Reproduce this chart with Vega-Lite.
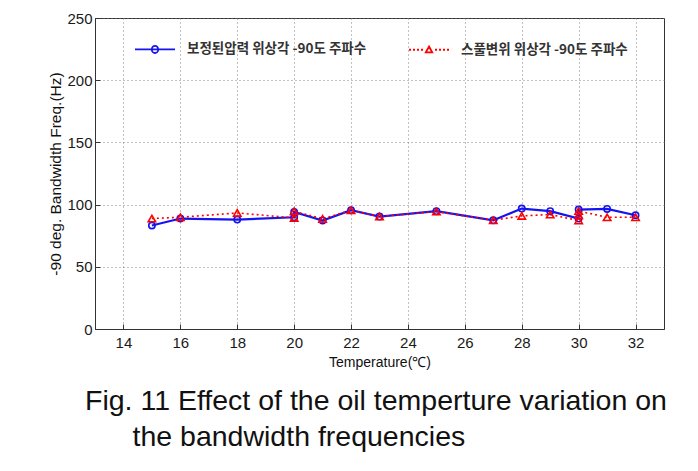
{
  "$schema": "https://vega.github.io/schema/vega-lite/v6.json",
  "autosize": "none",
  "width": 569,
  "height": 311,
  "padding": {"left": 95, "top": 18, "right": 34, "bottom": 142},
  "background": "white",
  "config": {
    "view": {"stroke": "#333", "strokeWidth": 1},
    "axis": {
      "labelFont": "Liberation Sans", "labelFontSize": 15, "labelColor": "#1a1a1a",
      "titleFont": "Liberation Sans", "titleFontSize": 15, "titleColor": "#111", "titleFontWeight": "normal",
      "gridColor": "#777", "gridDash": [1, 3], "gridOpacity": 0.9, "gridWidth": 1,
      "domainColor": "#333", "tickColor": "#333", "tickSize": -5
    }
  },
  "title": {
    "text": ["Fig. 11 Effect of the oil temperture variation on", "\u200b\u00a0\u00a0\u00a0\u00a0\u00a0\u00a0the bandwidth frequencies"],
    "orient": "bottom", "anchor": "start", "frame": "group", "dx": -10, "offset": 18,
    "font": "Liberation Sans", "fontSize": 28.5, "fontWeight": "normal", "color": "#111", "lineHeight": 36
  },
  "datasets": {
    "pts": [
      {"series": "보정된압력 위상각 -90도 주파수", "seq": 1, "t": 15, "f": 83.2},
      {"series": "보정된압력 위상각 -90도 주파수", "seq": 2, "t": 16, "f": 88.8},
      {"series": "보정된압력 위상각 -90도 주파수", "seq": 3, "t": 18, "f": 88.0},
      {"series": "보정된압력 위상각 -90도 주파수", "seq": 4, "t": 20, "f": 89.8},
      {"series": "보정된압력 위상각 -90도 주파수", "seq": 5, "t": 20, "f": 94.0},
      {"series": "보정된압력 위상각 -90도 주파수", "seq": 6, "t": 21, "f": 87.2},
      {"series": "보정된압력 위상각 -90도 주파수", "seq": 7, "t": 22, "f": 95.5},
      {"series": "보정된압력 위상각 -90도 주파수", "seq": 8, "t": 23, "f": 90.4},
      {"series": "보정된압력 위상각 -90도 주파수", "seq": 9, "t": 25, "f": 94.7},
      {"series": "보정된압력 위상각 -90도 주파수", "seq": 10, "t": 27, "f": 87.4},
      {"series": "보정된압력 위상각 -90도 주파수", "seq": 11, "t": 28, "f": 96.8},
      {"series": "보정된압력 위상각 -90도 주파수", "seq": 12, "t": 29, "f": 94.7},
      {"series": "보정된압력 위상각 -90도 주파수", "seq": 13, "t": 30, "f": 88.8},
      {"series": "보정된압력 위상각 -90도 주파수", "seq": 14, "t": 30, "f": 96.0},
      {"series": "보정된압력 위상각 -90도 주파수", "seq": 15, "t": 31, "f": 96.5},
      {"series": "보정된압력 위상각 -90도 주파수", "seq": 16, "t": 32, "f": 91.4},
      {"series": "스풀변위 위상각 -90도 주파수", "seq": 1, "t": 15, "f": 88.8},
      {"series": "스풀변위 위상각 -90도 주파수", "seq": 2, "t": 16, "f": 89.8},
      {"series": "스풀변위 위상각 -90도 주파수", "seq": 3, "t": 18, "f": 93.3},
      {"series": "스풀변위 위상각 -90도 주파수", "seq": 4, "t": 20, "f": 89.3},
      {"series": "스풀변위 위상각 -90도 주파수", "seq": 5, "t": 20, "f": 94.7},
      {"series": "스풀변위 위상각 -90도 주파수", "seq": 6, "t": 21, "f": 88.5},
      {"series": "스풀변위 위상각 -90도 주파수", "seq": 7, "t": 22, "f": 95.5},
      {"series": "스풀변위 위상각 -90도 주파수", "seq": 8, "t": 23, "f": 90.4},
      {"series": "스풀변위 위상각 -90도 주파수", "seq": 9, "t": 25, "f": 94.4},
      {"series": "스풀변위 위상각 -90도 주파수", "seq": 10, "t": 27, "f": 87.4},
      {"series": "스풀변위 위상각 -90도 주파수", "seq": 11, "t": 28, "f": 90.9},
      {"series": "스풀변위 위상각 -90도 주파수", "seq": 12, "t": 29, "f": 92.0},
      {"series": "스풀변위 위상각 -90도 주파수", "seq": 13, "t": 30, "f": 87.2},
      {"series": "스풀변위 위상각 -90도 주파수", "seq": 14, "t": 30, "f": 91.4},
      {"series": "스풀변위 위상각 -90도 주파수", "seq": 15, "t": 30, "f": 94.8},
      {"series": "스풀변위 위상각 -90도 주파수", "seq": 16, "t": 31, "f": 89.8},
      {"series": "스풀변위 위상각 -90도 주파수", "seq": 17, "t": 32, "f": 89.8}
    ]
  },
  "data": {"name": "pts"},
  "encoding": {
    "x": {
      "field": "t", "type": "quantitative",
      "scale": {"domain": [13, 33], "nice": false, "zero": false},
      "axis": {"values": [14, 16, 18, 20, 22, 24, 26, 28, 30, 32], "title": "Temperature(℃)", "labelPadding": 11, "titlePadding": 5, "titleFontSize": 14}
    },
    "y": {
      "field": "f", "type": "quantitative",
      "scale": {"domain": [0, 250], "nice": false},
      "axis": {"values": [0, 50, 100, 150, 200, 250], "title": "-90 deg. Bandwidth Freq.(Hz)", "labelPadding": 8, "titlePadding": 3, "titleFontSize": 15.5}
    }
  },
  "layer": [
    {
      "transform": [{"filter": "datum.series == '보정된압력 위상각 -90도 주파수'"}],
      "mark": {"type": "line", "strokeWidth": 2.2, "color": "#1414f0"},
      "encoding": {
        "order": {"field": "seq", "type": "quantitative"}
      }
    },
    {
      "transform": [{"filter": "datum.series == '스풀변위 위상각 -90도 주파수'"}],
      "mark": {"type": "line", "strokeWidth": 1.6, "strokeDash": [2, 3], "color": "#ff0000"},
      "encoding": {
        "order": {"field": "seq", "type": "quantitative"}
      }
    },
    {
      "transform": [{"filter": "datum.series == '보정된압력 위상각 -90도 주파수'"}],
      "mark": {"type": "point", "shape": "circle", "size": 40, "filled": false, "strokeWidth": 1.6, "opacity": 1, "color": "#1414f0"},
      "encoding": {}
    },
    {
      "transform": [{"filter": "datum.series == '스풀변위 위상각 -90도 주파수'"}],
      "mark": {"type": "point", "shape": "triangle-up", "size": 55, "filled": false, "strokeWidth": 1.6, "opacity": 1, "color": "#ff0000"},
      "encoding": {}
    },
    {
      "transform": [{"filter": "datum.seq < 0"}],
      "mark": {"type": "point", "filled": false, "strokeWidth": 1.8, "opacity": 1},
      "encoding": {
        "color": {
          "field": "series", "type": "nominal",
          "scale": {"domain": ["보정된압력 위상각 -90도 주파수", "스풀변위 위상각 -90도 주파수"], "range": ["#1414f0", "#ff0000"]},
          "legend": {
            "title": null, "orient": "none", "legendX": 39, "legendY": 10, "direction": "horizontal",
            "symbolSize": 1600, "symbolStrokeWidth": 1.8, "labelOffset": 11, "columnPadding": 38,
            "labelFont": "Noto Sans CJK KR", "labelFontSize": 13.5, "labelFontWeight": "bold", "labelColor": "#333", "labelLimit": 300
          }
        },
        "shape": {
          "field": "series", "type": "nominal",
          "scale": {"domain": ["보정된압력 위상각 -90도 주파수", "스풀변위 위상각 -90도 주파수"], "range": ["M-1,0H1M-0.16,0A0.16,0.18 0 1 1 0.16,0A0.16,0.18 0 1 1 -0.16,0", "M-1,0H-0.9M-0.8,0H-0.7M-0.6,0H-0.5M-0.4,0H-0.3M0.3,0H0.4M0.5,0H0.6M0.7,0H0.8M0.9,0H1M0,-0.16L0.16,0.13L-0.16,0.13Z"]},
          "legend": {
            "title": null, "orient": "none", "legendX": 39, "legendY": 10, "direction": "horizontal",
            "symbolSize": 1600, "symbolStrokeWidth": 1.8, "labelOffset": 11, "columnPadding": 38,
            "labelFont": "Noto Sans CJK KR", "labelFontSize": 13.5, "labelFontWeight": "bold", "labelColor": "#333", "labelLimit": 300
          }
        }
      }
    }
  ]
}
